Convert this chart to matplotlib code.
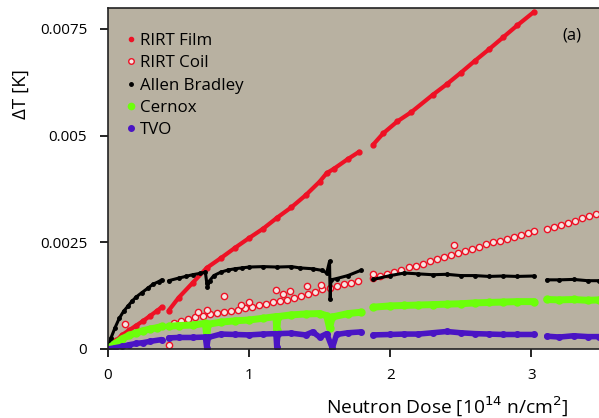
import numpy as np
import matplotlib
matplotlib.use("Agg")
import matplotlib.pyplot as plt
from matplotlib.lines import Line2D

plt.rcParams['font.family'] = ['Open Sans', 'DejaVu Sans']

# Data (dose in 1e14 n/cm^2, dT in mK); NaN marks a gap in the run
film_x = [0, 0.03, 0.06, 0.1, 0.15, 0.2, 0.25, 0.3, 0.35, 0.38, np.nan,
          0.43, 0.5, 0.6, 0.7, 0.8, 0.9, 1.0, 1.1, 1.2, 1.3, 1.4, 1.5, 1.55, 1.6, 1.7, 1.78, np.nan,
          1.88, 1.95, 2.05, 2.15, 2.3, 2.4, 2.5, 2.6, 2.7, 2.8, 2.9, 3.02]
film_y = [0, 0.1, 0.2, 0.33, 0.44, 0.55, 0.66, 0.78, 0.9, 0.98, np.nan,
          0.9, 1.2, 1.55, 1.9, 2.13, 2.37, 2.6, 2.82, 3.08, 3.32, 3.6, 3.92, 4.12, 4.22, 4.45, 4.62, np.nan,
          4.79, 5.05, 5.33, 5.55, 5.95, 6.2, 6.47, 6.75, 7.02, 7.3, 7.58, 7.9]

coil_x = [0.43, 0.47, 0.52, 0.57, 0.62, 0.67, 0.72, 0.77, 0.82, 0.87, 0.92, 0.97, 1.02, 1.07,
          1.12, 1.17, 1.22, 1.27, 1.32, 1.37, 1.42, 1.47, 1.52, 1.57, 1.62, 1.67, 1.72, 1.77,
          1.88, 1.93, 1.98, 2.03, 2.08, 2.13, 2.18, 2.23, 2.28, 2.33, 2.38, 2.43, 2.48, 2.53,
          2.58, 2.63, 2.68, 2.73, 2.78, 2.83, 2.88, 2.93, 2.98, 3.02,
          3.11, 3.16, 3.21, 3.26, 3.31, 3.36, 3.41, 3.46,
          0.12, 0.64, 0.70, 0.82, 0.94, 1.0, 1.19, 1.24, 1.29, 1.41, 1.51, 2.45, 1.88]
coil_y = [0.09, 0.62, 0.66, 0.7, 0.74, 0.78, 0.82, 0.84, 0.87, 0.89, 0.92, 0.95, 0.98, 1.02,
          1.06, 1.09, 1.12, 1.15, 1.19, 1.23, 1.28, 1.34, 1.4, 1.44, 1.48, 1.52, 1.55, 1.6,
          1.66, 1.7, 1.75, 1.8, 1.86, 1.91, 1.95, 2.0, 2.05, 2.1, 2.15, 2.2, 2.25, 2.3,
          2.35, 2.4, 2.45, 2.5, 2.54, 2.58, 2.63, 2.68, 2.72, 2.76,
          2.8, 2.86, 2.91, 2.96, 3.01, 3.06, 3.11, 3.16,
          0.59, 0.86, 0.92, 1.23, 1.03, 1.1, 1.39, 1.3, 1.36, 1.47, 1.51, 2.44, 1.75]

ab_x = [0, 0.02, 0.05, 0.08, 0.11, 0.14, 0.17, 0.2, 0.24, 0.28, 0.32, 0.36, 0.38, np.nan,
        0.43, 0.5, 0.55, 0.6, 0.65, 0.69, 0.7, 0.705, 0.72, 0.75, 0.8, 0.85, 0.9, 0.95, 1.0,
        1.1, 1.2, 1.3, 1.36, 1.45, 1.52, 1.55, 1.57, 1.575, 1.58, 1.62, 1.7, 1.79, np.nan,
        1.88, 2.0, 2.1, 2.2, 2.3, 2.4, 2.5, 2.6, 2.7, 2.8, 2.9, 3.02, np.nan,
        3.11, 3.2, 3.3, 3.4, 3.48]
ab_y = [0, 0.25, 0.5, 0.72, 0.88, 1.0, 1.12, 1.22, 1.32, 1.42, 1.52, 1.58, 1.62, np.nan,
        1.6, 1.66, 1.7, 1.74, 1.77, 1.8, 1.55, 1.45, 1.6, 1.72, 1.8, 1.85, 1.88, 1.9, 1.92,
        1.93, 1.92, 1.93, 1.9, 1.88, 1.84, 1.78, 2.05, 1.16, 1.62, 1.65, 1.72, 1.84, np.nan,
        1.63, 1.72, 1.78, 1.76, 1.74, 1.75, 1.72, 1.72, 1.7, 1.71, 1.7, 1.71, np.nan,
        1.62, 1.62, 1.63, 1.6, 1.6]

cx_x = [0, 0.03, 0.06, 0.1, 0.15, 0.2, 0.25, 0.3, 0.35, 0.38, np.nan,
        0.43, 0.5, 0.6, 0.69, 0.7, 0.71, 0.8, 0.9, 1.0, 1.1, 1.19, 1.196, 1.205, 1.3, 1.4, 1.5,
        1.55, 1.57, 1.59, 1.7, 1.79, np.nan,
        1.88, 2.0, 2.1, 2.2, 2.3, 2.4, 2.5, 2.6, 2.7, 2.8, 2.9, 3.02, np.nan,
        3.11, 3.2, 3.3, 3.4, 3.48]
cx_y = [0, 0.08, 0.15, 0.24, 0.32, 0.38, 0.43, 0.47, 0.5, 0.53, np.nan,
        0.53, 0.55, 0.56, 0.6, 0.3, 0.58, 0.63, 0.66, 0.68, 0.72, 0.76, 0.45, 0.76, 0.8, 0.82, 0.83,
        0.78, 0.5, 0.75, 0.83, 0.86, np.nan,
        0.98, 1.01, 1.02, 1.03, 1.04, 1.05, 1.06, 1.08, 1.09, 1.1, 1.11, 1.11, np.nan,
        1.16, 1.15, 1.16, 1.14, 1.15]

tvo_x = [0, 0.05, 0.1, 0.15, 0.2, 0.25, 0.3, 0.38, np.nan,
         0.43, 0.5, 0.6, 0.69, 0.7, 0.71, 0.8, 0.9, 1.0, 1.1, 1.19, 1.196, 1.205, 1.3, 1.4, 1.45,
         1.5, 1.55, 1.59, 1.62, 1.7, 1.79, np.nan,
         1.88, 2.0, 2.1, 2.2, 2.3, 2.4, 2.5, 2.6, 2.7, 2.8, 2.9, 3.02, np.nan,
         3.11, 3.2, 3.3, 3.4, 3.48]
tvo_y = [0, 0.03, 0.06, 0.1, 0.13, 0.15, 0.18, 0.22, np.nan,
         0.26, 0.27, 0.27, 0.28, 0.02, 0.27, 0.35, 0.34, 0.33, 0.35, 0.36, 0.05, 0.36, 0.37, 0.33, 0.4,
         0.28, 0.36, 0.02, 0.34, 0.38, 0.4, np.nan,
         0.33, 0.34, 0.35, 0.35, 0.38, 0.41, 0.38, 0.36, 0.35, 0.34, 0.34, 0.34, np.nan,
         0.3, 0.28, 0.31, 0.29, 0.29]

labels = ['RIRT Film', 'RIRT Coil', 'Allen Bradley', 'Cernox', 'TVO']
red = '#ee1125'
green = '#6cff0a'
purple = '#4a14c4'

fig = plt.figure(figsize=(5.99, 4.18), dpi=100)
ax = fig.add_axes([108 / 599, 69 / 418, 491 / 599, 341.5 / 418])
ax.set_facecolor('#b8b1a1')

def mk(v):
    return np.array(v, dtype=float) / 1000.0

ax.plot(film_x, mk(film_y), color=red, lw=3, marker='o', ms=3.5, solid_capstyle='round')
ax.plot(coil_x, mk(coil_y), ls='none', marker='o', ms=4.5, mfc='#f5e6e2', mec=red, mew=1)
ax.plot(ab_x, mk(ab_y), color='black', lw=2.2, marker='o', ms=2.5, solid_capstyle='round')
ax.plot(cx_x, mk(cx_y), color=green, lw=5, marker='o', ms=5, solid_capstyle='round')
ax.plot(tvo_x, mk(tvo_y), color=purple, lw=4, marker='o', ms=4, solid_capstyle='round')

ax.set_xlim(0, 3.48)
ax.set_ylim(0, 0.008)
ax.set_xticks([0, 1, 2, 3])
ax.set_yticks([0, 0.0025, 0.005, 0.0075])
ax.set_yticklabels(['0', '0.0025', '0.005', '0.0075'])
ax.tick_params(direction='out', length=6, width=1.2, labelsize=11)
ax.tick_params(axis='x', pad=8)
ax.tick_params(axis='y', pad=9)
ax.spines['right'].set_visible(False)
for s in ['left', 'top', 'bottom']:
    ax.spines[s].set_linewidth(1.2)
    ax.spines[s].set_color('#222222')

ax.set_xlabel('Neutron Dose [10$^{14}$ n/cm$^{2}$]', fontsize=13.8)
ax.xaxis.set_label_coords(0.691, -0.132)
ax.set_ylabel('ΔT [K]', fontsize=13.5)
ax.yaxis.set_label_coords(-0.159, 0.747)

handles = [
    Line2D([], [], ls='none', marker='o', ms=3, color=red),
    Line2D([], [], ls='none', marker='o', ms=4, mfc='#f5e6e2', mec=red, mew=1),
    Line2D([], [], ls='none', marker='o', ms=2.5, color='black'),
    Line2D([], [], ls='none', marker='o', ms=4.5, color=green),
    Line2D([], [], ls='none', marker='o', ms=4, color=purple),
]
ax.legend(handles, labels, loc='upper left', bbox_to_anchor=(0.022, 0.945), frameon=False,
          fontsize=12.2, handlelength=0.6, handletextpad=0.25, labelspacing=0.37, borderaxespad=0)

ax.text(0.925, 0.94, '(a)', transform=ax.transAxes, fontsize=12, ha='left', va='top')

fig.savefig('out.png', dpi=100)
